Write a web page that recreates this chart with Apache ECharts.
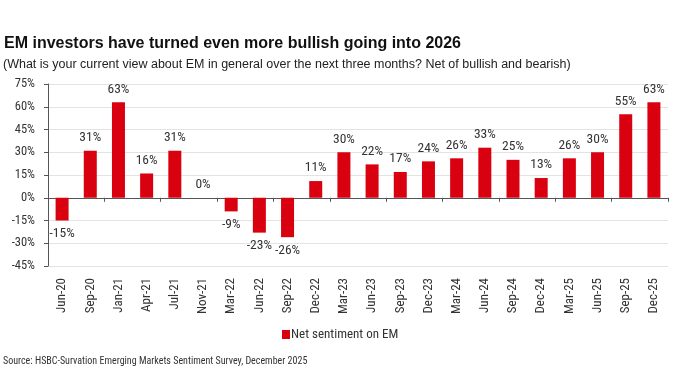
<!DOCTYPE html>
<html><head><meta charset="utf-8">
<script src="https://cdn.jsdelivr.net/npm/echarts@6/dist/echarts.min.js"></script>
<style>html,body{margin:0;padding:0;background:#fff}#c{width:700px;height:385px}</style>
</head><body><div id="c"></div>
<script>
var categories = ['Jun-20','Sep-20','Jan-21','Apr-21','Jul-21','Nov-21','Mar-22','Jun-22','Sep-22','Dec-22','Mar-23','Jun-23','Sep-23','Dec-23','Mar-24','Jun-24','Sep-24','Dec-24','Mar-25','Jun-25','Sep-25','Dec-25'];
var netSentiment = [-15,31,63,16,31,0,-9,-23,-26,11,30,22,17,24,26,33,25,13,26,30,55,63];
var seriesName = 'Net sentiment on EM';
var titleText = 'EM investors have turned even more bullish going into 2026';
var subtitleText = '(What is your current view about EM in general over the next three months? Net of bullish and bearish)';
var sourceText = 'Source: HSBC-Survation Emerging Markets Sentiment Survey, December 2025';

var HEAD = "'Liberation Sans',Arial,sans-serif";
var FONT = "'Roboto Condensed','Liberation Sans',sans-serif";
var RED = '#d9000f';
var TXT = '#333333';

var chart = echarts.init(document.getElementById('c'), null, {renderer:'canvas'});
var barData = netSentiment.map(function(v){
  return {value:v, label:{position: v < 0 ? 'bottom' : 'top'}};
});
chart.setOption({
  animation:false,
  textStyle:{fontFamily:FONT},
  title:[
    {text:titleText, left:4, top:36, padding:0, textStyle:{fontFamily:HEAD, fontSize:16, fontWeight:'bold', color:'#111'}},
    {text:subtitleText, left:3, top:58, padding:0, textStyle:{fontFamily:HEAD, fontSize:12.5, fontWeight:'normal', color:'#222'}},
    {text:sourceText, left:3, top:356, padding:0, textStyle:{fontFamily:FONT, fontSize:10, fontWeight:'normal', color:'#333'}}
  ],
  legend:{
    data:[seriesName], top:323, left:277, itemWidth:8, itemHeight:9, itemGap:0,
    icon:'rect',
    textStyle:{fontFamily:FONT, fontSize:13, color:TXT, padding:[0,0,0,-4]}
  },
  grid:{left:48, right:32, top:84, bottom:119, containLabel:false},
  xAxis:[
    {type:'category', data:categories, position:'bottom',
     axisLine:{show:false, onZero:false}, axisTick:{show:false},
     axisLabel:{rotate:90, fontFamily:FONT, fontSize:13, color:TXT, margin:12, interval:0},
     splitLine:{show:false}},
    {type:'category', data:categories, position:'bottom',
     axisLine:{show:true, onZero:true, lineStyle:{color:'#555', width:1}},
     axisTick:{show:true, length:4, lineStyle:{color:'#555'}},
     axisLabel:{show:false}, splitLine:{show:false}}
  ],
  yAxis:{
    type:'value', min:-45, max:75, interval:15,
    axisLine:{show:true, lineStyle:{color:'#555'}},
    axisTick:{show:true, length:4, lineStyle:{color:'#555'}},
    axisLabel:{formatter:'{value}%', fontFamily:FONT, fontSize:12.5, color:TXT, margin:13},
    splitLine:{show:true, lineStyle:{color:'#e3e3e3', width:1}}
  },
  series:[{
    name:seriesName, type:'bar', xAxisIndex:0, data:barData, barWidth:13,
    itemStyle:{color:RED},
    label:{show:true, formatter:'{c}%', fontFamily:FONT, fontSize:13.5, color:TXT, distance:6}
  }]
});
</script></body></html>
